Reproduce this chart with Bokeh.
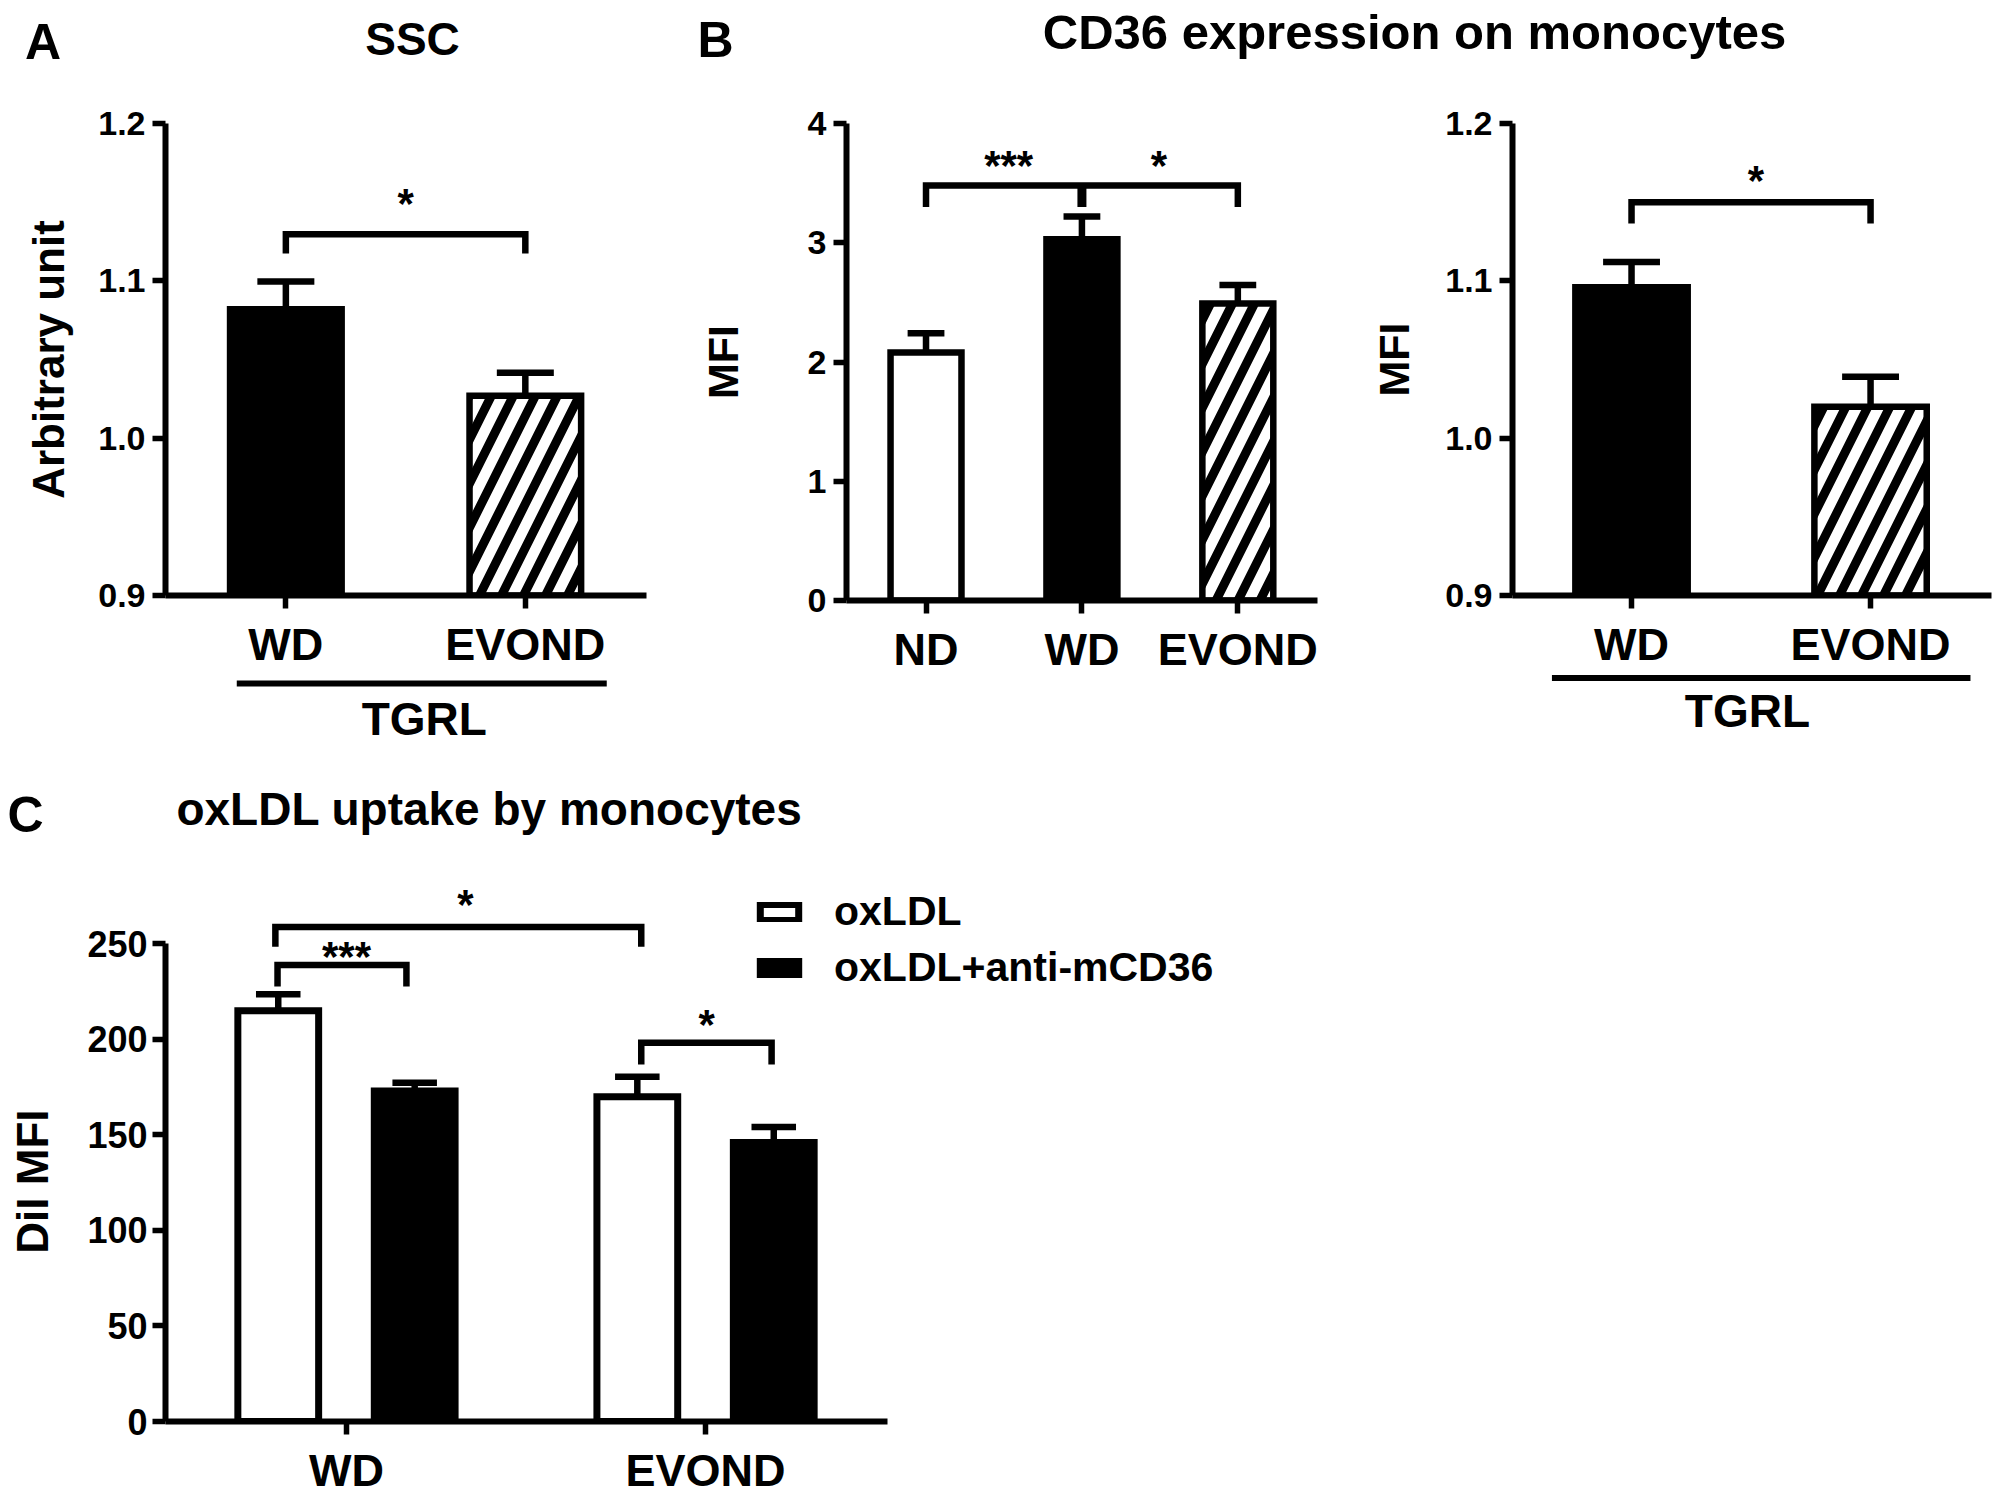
from bokeh.plotting import figure
from bokeh.layouts import column, row
from bokeh.models import (Range1d, FixedTicker, Legend, LegendItem,
                          ColumnDataSource, PrintfTickFormatter)
from bokeh.embed import file_html
from bokeh.resources import INLINE
from bokeh.core.properties import value

FONT = "Liberation Sans"

# ---------------- data ----------------
ssc_groups = ["WD", "EVOND"]
ssc_mean = [1.082, 1.027]
ssc_sem = [0.0176, 0.0145]
ssc_style = ["solid", "hatch"]

cd36_groups = ["ND", "WD", "EVOND"]
cd36_mean = [2.08, 3.03, 2.49]
cd36_sem = [0.162, 0.19, 0.155]
cd36_style = ["open", "solid", "hatch"]

cd36tg_groups = ["WD", "EVOND"]
cd36tg_mean = [1.096, 1.020]
cd36tg_sem = [0.016, 0.019]
cd36tg_style = ["solid", "hatch"]

ox_groups = ["WD", "EVOND"]
ox_series = ["oxLDL", "oxLDL+anti-mCD36"]
ox_mean = [215.0, 170.0]
ox_sem = [8.6, 10.4]
oxab_mean = [173.0, 146.0]
oxab_sem = [4.2, 8.1]

group_label = "TGRL"

# significance brackets: (x left, x right, bracket y, tip y, mark, mark x, mark y)
ssc_sig = [(0, 1, 1.1296, 1.1173, "*", 0.5, 1.1493)]
cd36_sig = [(0, 2, 3.48, 3.30, "", 0, 0)]
cd36_marks = [("***", 0.53, 3.651), ("*", 1.494, 3.651)]
cd36_mid = [(1, 3.48, 3.30)]
cd36tg_sig = [(0, 1, 1.15, 1.1365, "*", 0.52, 1.1637)]
ox_sig = [(-0.192, 0.167, 238.9, 227.6, "***", 0.0, 243.5),
          (-0.198, 0.821, 258.8, 248.4, "*", 0.331, 270.8),
          (0.821, 1.184, 198.2, 186.8, "*", 1.003, 207.9)]

HDR1_H = 78
TOP_H = 667
HDR2_H = 120
C_H = 633
STAR_PX = 42
LW = 6.5


def base_fig(**kw):
    p = figure(output_backend="svg", toolbar_location=None, **kw)
    p.frame_align = False
    p.grid.visible = False
    p.outline_line_color = None
    return p


def style_axes(p, tick_px, cat_px, lab_px, tick_standoff, cat_standoff, lab_standoff):
    for ax in p.axis:
        ax.axis_line_width = 6
        ax.axis_line_color = "black"
        ax.major_tick_line_width = 5.5
        ax.major_tick_line_color = "black"
        ax.major_tick_out = 13
        ax.major_tick_in = 0
        ax.minor_tick_line_color = None
        ax.major_label_text_font = FONT
        ax.major_label_text_font_style = "bold"
        ax.major_label_text_color = "black"
        ax.axis_label_text_font = FONT
        ax.axis_label_text_font_style = "bold"
        ax.axis_label_text_color = "black"
        ax.axis_label_text_font_size = f"{lab_px}px"
    p.yaxis.major_label_text_font_size = f"{tick_px}px"
    p.yaxis.major_label_standoff = tick_standoff
    p.yaxis.axis_label_standoff = lab_standoff
    p.xaxis.major_label_text_font_size = f"{cat_px}px"
    p.xaxis.major_label_standoff = cat_standoff


def stars(p, x, y, mark):
    p.text(x=[x], y=[y], text=[mark], text_font=value(FONT), text_font_style="bold",
           text_font_size=f"{STAR_PX}px", text_align="center", text_baseline="alphabetic",
           text_color="black")


def bar_panel(groups, means, sems, styles, y0, y1, yticks, yfmt, ylabel, lab_px,
              x_lo, x_hi, width, height, bl, br, bb, bar_w, cap_hw, lab_standoff, sig):
    p = base_fig(width=width, height=height, x_range=Range1d(x_lo, x_hi),
                 y_range=Range1d(y0, y1), min_border_left=bl, min_border_right=br,
                 min_border_top=45, min_border_bottom=bb)
    x = list(range(len(groups)))
    fill = ["black" if s == "solid" else "white" for s in styles]
    hatch = ["/" if s == "hatch" else " " for s in styles]
    src = ColumnDataSource(dict(x=x, top=means, fill=fill, hatch=hatch))
    p.vbar(x="x", top="top", bottom=y0, width=bar_w, source=src, fill_color="fill",
           line_color="black", line_width=LW, line_join="miter",
           hatch_pattern="hatch", hatch_color="black", hatch_scale=44, hatch_weight=9)
    tops = [m + s for m, s in zip(means, sems)]
    p.segment(x0=x, y0=means, x1=x, y1=tops, line_width=LW, line_color="black")
    p.segment(x0=[v - cap_hw for v in x], y0=tops, x1=[v + cap_hw for v in x], y1=tops,
              line_width=LW, line_color="black")
    for (xa, xb, yb, yt, mark, mx, my) in sig:
        p.line([xa, xa, xb, xb], [yt, yb, yb, yt], line_width=LW, line_color="black",
               line_join="miter")
        if mark:
            stars(p, mx, my, mark)
    p.yaxis.ticker = FixedTicker(ticks=yticks)
    p.yaxis.formatter = PrintfTickFormatter(format=yfmt)
    p.yaxis.axis_label = ylabel
    p.xaxis.ticker = FixedTicker(ticks=x)
    p.xaxis.major_label_overrides = {i: g for i, g in enumerate(groups)}
    style_axes(p, 34, 45, lab_px, 7, 10, lab_standoff)
    return p


def group_strip(panel, groups, width, height, bl, br, x_from, x_to, line_y, text_x, text_y):
    s = base_fig(width=width, height=height, x_range=panel.x_range,
                 y_range=Range1d(height, 0), min_border_left=bl, min_border_right=br,
                 min_border_top=0, min_border_bottom=0, x_axis_type=None, y_axis_type=None)
    n = len(groups) - 1
    s.line([0 + x_from, n + x_to], [line_y, line_y], line_width=6, line_color="black")
    s.text(x=[text_x], y=[text_y], text=[group_label], text_font=value(FONT),
           text_font_style="bold", text_font_size="46px", text_align="center",
           text_baseline="alphabetic", text_color="black")
    return s


def header(width, height, items):
    p = base_fig(width=width, height=height, x_range=Range1d(0, width),
                 y_range=Range1d(height, 0), min_border=0, x_axis_type=None,
                 y_axis_type=None)
    for (x, y, txt, size) in items:
        p.text(x=[x], y=[y], text=[txt], text_font=value(FONT), text_font_style="bold",
               text_font_size=f"{size}px", text_align="center",
               text_baseline="alphabetic", text_color="black")
    return p


# ---------------- panel A ----------------
pA = bar_panel(ssc_groups, ssc_mean, ssc_sem, ssc_style, 0.9, 1.2, [0.9, 1.0, 1.1, 1.2],
               "%.1f", "Arbitrary unit", 44, -0.5026, 1.506, 695, 594, 165, 49, 72,
               0.466, 0.119, 22, ssc_sig)
sA = group_strip(pA, ssc_groups, 695, TOP_H - 594, 165, 49, -0.205, 0.34, 11, 0.578, 46)

# ---------------- panel B (left) ----------------
pB = bar_panel(cd36_groups, cd36_mean, cd36_sem, cd36_style, 0, 4, [0, 1, 2, 3, 4],
               "%d", "MFI", 43, -0.51, 2.511, 665, TOP_H, 141, 43, 145, 0.455, 0.118, 58,
               cd36_sig)
for (mx, yb, yt) in cd36_mid:
    pB.segment(x0=[mx], y0=[yb], x1=[mx], y1=[yt], line_width=9, line_color="black")
for (mark, mx, my) in cd36_marks:
    stars(pB, mx, my, mark)

# ---------------- panel B (right) ----------------
pB2 = bar_panel(cd36tg_groups, cd36tg_mean, cd36tg_sem, cd36tg_style, 0.9, 1.2,
                [0.9, 1.0, 1.1, 1.2], "%.1f", "MFI", 43, -0.498, 1.506, 642, 594, 152, 11,
                72, 0.47, 0.119, 24, cd36tg_sig)
sB2 = group_strip(pB2, cd36tg_groups, 642, TOP_H - 594, 152, 11, -0.333, 0.418, 5.6,
                  0.485, 38)

# ---------------- panel C ----------------
pC = base_fig(width=2002, height=C_H, x_range=Range1d(-0.504, 2.657),
              y_range=Range1d(0, 283.1), min_border_left=165, min_border_right=702,
              min_border_top=15, min_border_bottom=C_H - 15 - 544)
gx = list(range(len(ox_groups)))
off = 0.19
xo = [g - off for g in gx]
xa = [g + off for g in gx]
r_ox = pC.vbar(x=xo, top=ox_mean, bottom=0, width=0.225, fill_color="white",
               line_color="black", line_width=7, line_join="miter")
r_ab = pC.vbar(x=xa, top=oxab_mean, bottom=0, width=0.225, fill_color="black",
               line_color="black", line_width=7, line_join="miter")
for xs_, m_, s_ in ((xo, ox_mean, ox_sem), (xa, oxab_mean, oxab_sem)):
    tops = [a + b for a, b in zip(m_, s_)]
    pC.segment(x0=xs_, y0=m_, x1=xs_, y1=tops, line_width=LW, line_color="black")
    pC.segment(x0=[v - 0.062 for v in xs_], y0=tops, x1=[v + 0.062 for v in xs_], y1=tops,
               line_width=LW, line_color="black")
for (xl, xr, yb, yt, mark, mx, my) in ox_sig:
    pC.line([xl, xl, xr, xr], [yt, yb, yb, yt], line_width=LW, line_color="black",
            line_join="miter")
    stars(pC, mx, my, mark)
pC.yaxis.ticker = FixedTicker(ticks=[0, 50, 100, 150, 200, 250])
pC.yaxis.bounds = (0, 250)
pC.yaxis.axis_label = "DiI MFI" + "\u00a0" * 5
pC.xaxis.ticker = FixedTicker(ticks=gx)
pC.xaxis.bounds = (-0.504, 1.507)
pC.xaxis.major_label_overrides = {i: g for i, g in enumerate(ox_groups)}
style_axes(pC, 36, 45, 44, 5, 10, 27)
legend = Legend(items=[LegendItem(label=ox_series[0], renderers=[r_ox]),
                       LegendItem(label=ox_series[1], renderers=[r_ab])],
                location=(590, 430), glyph_width=48, glyph_height=20, label_standoff=31,
                spacing=9, padding=0, margin=0, border_line_color=None,
                background_fill_alpha=0, label_text_font=FONT,
                label_text_font_style="bold", label_text_font_size="41px",
                label_text_color="black")
pC.add_layout(legend)

# ---------------- headers ----------------
h1 = header(2002, HDR1_H, [(42.5, 41, "A", 50), (412, 38, "SSC", 46), (715, 39, "B", 50),
                           (1414, 31.5, "CD36 expression on monocytes", 49)])
h2 = header(2002, HDR2_H, [(25, 69, "C", 50), (489, 63.6, "oxLDL uptake by monocytes", 46)])

layout = column(h1, row(column(pA, sA), pB, column(pB2, sB2)), h2, pC)
open("out.html", "w").write(file_html(layout, INLINE))
